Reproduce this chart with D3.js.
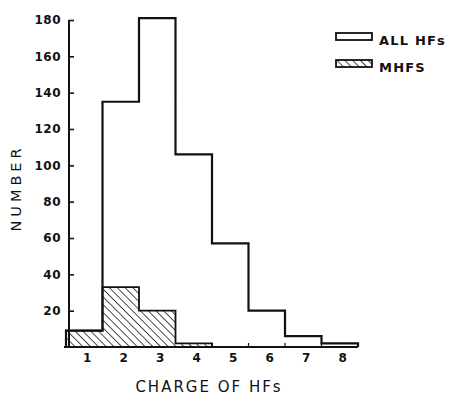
<!DOCTYPE html>
<html>
<head>
<meta charset="utf-8">
<script src="https://cdn.jsdelivr.net/npm/d3@7"></script>
<style>
  body { margin: 0; background: #fff; }
  svg text { font-family: "DejaVu Sans", sans-serif; fill: #111; }
</style>
</head>
<body>
<div id="canvas"></div>
<script>
(function(){

    // data
    var charges = [1, 2, 3, 4, 5, 6, 7, 8];
    var allHFs  = [9, 135, 181, 106, 57, 20, 6, 2];
    var mhfs    = [9, 33, 20, 2, 0, 0, 0, 0];
    var yTicks  = [20, 40, 60, 80, 100, 120, 140, 160, 180];

    var svg = d3.select("#canvas").append("svg").attr("width", 449).attr("height", 395);

    var x = d3.scaleLinear().domain([0.5, 8.5]).range([66, 358]);
    var y = d3.scaleLinear().domain([0, 180]).range([347, 20]);

    // hatch pattern for MHFS (lines running top-left to bottom-right)
    var defs = svg.append("defs");
    var pat = defs.append("pattern")
        .attr("id", "hatch")
        .attr("patternUnits", "userSpaceOnUse")
        .attr("width", 5.5).attr("height", 5.5)
        .attr("patternTransform", "rotate(-45)");
    pat.append("line")
        .attr("x1", 0).attr("y1", 0).attr("x2", 0).attr("y2", 5.5)
        .attr("stroke", "#111").attr("stroke-width", 1.5);

    // step outline points built from the data
    function stepPoints(values){
        var pts = [[x(charges[0] - 0.5), y(0)]];
        values.forEach(function(v, i){
            pts.push([x(charges[i] - 0.5), y(v)]);
            pts.push([x(charges[i] + 0.5), y(v)]);
        });
        pts.push([x(charges[charges.length - 1] + 0.5), y(0)]);
        return pts;
    }
    var line = d3.line();

    // MHFS hatched
    svg.append("path")
        .attr("d", line(stepPoints(mhfs)) + "Z")
        .attr("fill", "url(#hatch)")
        .attr("stroke", "#111")
        .attr("stroke-width", 1.8);

    // all HFs outline
    svg.append("path")
        .attr("d", line(stepPoints(allHFs)))
        .attr("fill", "none")
        .attr("stroke", "#111")
        .attr("stroke-width", 2.2);

    // y axis
    var yAxis = d3.axisLeft(y)
        .tickValues(yTicks)
        .tickSizeInner(-5)
        .tickSizeOuter(0)
        .tickPadding(8);
    var gy = svg.append("g")
        .attr("transform", "translate(69,0)")
        .call(yAxis);
    gy.select(".domain").attr("stroke", "#111").attr("stroke-width", 2).attr("d", "M0," + y(180) + "V" + y(0));
    gy.selectAll(".tick line").attr("stroke", "#111").attr("stroke-width", 1.6);
    gy.selectAll(".tick text")
        .style("font-size", "12px")
        .style("font-weight", "bold")
        .style("letter-spacing", "0.5px")
        .attr("fill", "#111");

    // x axis baseline with small ticks at bar boundaries
    var gx = svg.append("g").attr("transform", "translate(0," + y(0) + ")");
    gx.append("line")
        .attr("x1", 64).attr("x2", x(8.5))
        .attr("stroke", "#111").attr("stroke-width", 2);
    gx.selectAll(".bt")
        .data(charges.slice(3, 7))
        .enter().append("line")
        .attr("x1", function(d){ return x(d + 0.5); })
        .attr("x2", function(d){ return x(d + 0.5); })
        .attr("y1", 0).attr("y2", -4)
        .attr("stroke", "#111").attr("stroke-width", 1.2);
    gx.selectAll(".lbl")
        .data(charges)
        .enter().append("text")
        .attr("x", function(d){ return x(d) + 3; })
        .attr("y", 15)
        .attr("text-anchor", "middle")
        .style("font-size", "12px")
        .style("font-weight", "bold")
        .text(function(d){ return d; });

    // axis titles
    svg.append("text")
        .attr("x", 209).attr("y", 392)
        .attr("text-anchor", "middle")
        .style("font-size", "15px")
        .style("letter-spacing", "2px")
        .text("CHARGE OF HFs");

    svg.append("text")
        .attr("transform", "translate(21,188) rotate(-90)")
        .attr("text-anchor", "middle")
        .style("font-size", "14.5px")
        .style("letter-spacing", "4px")
        .text("NUMBER");

    // legend
    var legend = [
        { name: "ALL HFs", fill: "none" },
        { name: "MHFS", fill: "url(#hatch)" }
    ];
    var lg = svg.append("g").selectAll("g")
        .data(legend)
        .enter().append("g")
        .attr("transform", function(d, i){ return "translate(336," + (33 + i * 27) + ")"; });
    lg.append("rect")
        .attr("width", 36).attr("height", 7)
        .attr("fill", function(d){ return d.fill; })
        .attr("stroke", "#111").attr("stroke-width", 1.8);
    lg.append("text")
        .attr("x", 43).attr("y", 12)
        .style("font-size", "13px")
        .style("font-weight", "bold")
        .style("letter-spacing", "1.2px")
        .text(function(d){ return d.name; });

})();
</script>
</body>
</html>
